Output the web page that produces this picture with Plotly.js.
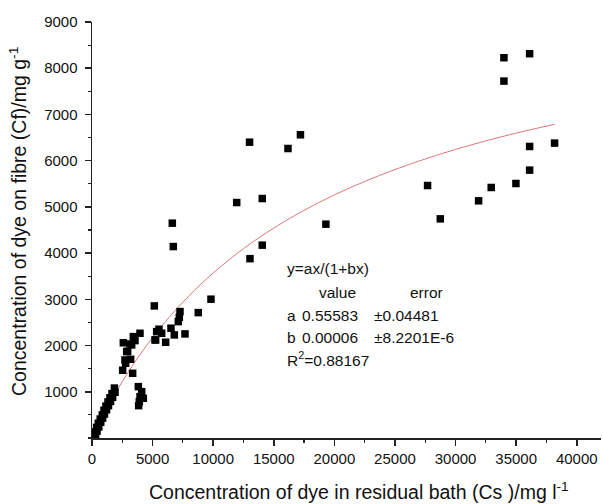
<!DOCTYPE html>
<html>
<head>
<meta charset="utf-8">
<script src="https://cdn.plot.ly/plotly-3.0.1.min.js"></script>
<style>html,body{margin:0;padding:0;background:#fff;}#chart{width:603px;height:504px;}</style>
</head>
<body>
<div id="chart"></div>
<script>
// Measured points: Cs (mg/l) and Cf (mg/g)
const csData = [
  165, 300, 250, 420, 380, 560, 520, 720, 680, 880, 850, 1030, 990, 1200, 1150, 1360, 1320, 1530, 1480, 1700, 1650, 1900, 1850,
  2530, 2585, 2723, 2777, 2860, 2943, 3135, 3190, 3273, 3355, 3410, 3548, 3960,
  3823, 4100, 3960, 4235, 3905, 3850,
  5142, 5198, 5253, 5335, 5528, 5750, 6078, 6518, 6793, 7123, 7205, 7260, 7673, 8770, 9818,
  6627, 6710, 11940, 13000, 13035, 14050, 14050, 16170, 17200, 19300,
  27690, 28740, 31900, 32940, 33990, 33990, 34980, 36110, 36110, 36110, 38170
];
const cfData = [
  43, 60, 130, 150, 230, 240, 320, 340, 410, 430, 500, 520, 600, 610, 690, 700, 780, 790, 870, 880, 960, 990, 1080,
  1465, 2060, 1689, 1617, 1868, 1877, 2035, 1703, 2013, 1400, 2193, 2107, 2266,
  1111, 1003, 894, 859, 786, 700,
  2858, 2122, 2122, 2302, 2353, 2266, 2072, 2375, 2230, 2518, 2613, 2735, 2252, 2713, 3003,
  4648, 4142, 5094, 6400, 3880, 5181, 4172, 6263, 6560, 4626,
  5462, 4741, 5131, 5420, 8227, 7722, 5506, 8314, 6307, 5795, 6380
];
// Fitted curve y = ax/(1+bx)
const fitX = [300, 1000, 2000, 3000, 4000, 5000, 6000, 8000, 10000, 12500, 15000, 17500, 20000, 22500, 25000, 27500, 30000, 32500, 35000, 38170];
const fitY = [164, 526, 1000, 1429, 1818, 2174, 2500, 3076, 3570, 4097, 4542, 4926, 5259, 5550, 5808, 6037, 6243, 6428, 6596, 6787];

const xTickVals = [0, 5000, 10000, 15000, 20000, 25000, 30000, 35000, 40000];
const yTickVals = [1000, 2000, 3000, 4000, 5000, 6000, 7000, 8000, 9000];

const xTitle = 'Concentration of dye in residual bath (Cs )/mg l<sup>-1</sup>';
const yTitle = 'Concentration of dye on fibre (Cf)/mg g<sup>-1</sup>';
const fitFormula = 'y=ax/(1+bx)';
const colHeads = ['value', 'error'];
const paramNames = ['a', 'b'];
const paramValues = ['0.55583', '0.00006'];
const paramErrors = ['±0.04481', '±8.2201E-6'];
const r2Text = 'R<sup>2</sup>=0.88167';

const font = 'Liberation Sans, Arial, sans-serif';
const W = 603, H = 504, ML = 92, MR = 2, MT = 22, MB = 66;
const PW = W - ML - MR, PH = H - MT - MB;
const px = v => (v - ML) / PW;
const py = v => 1 - (v - MT) / PH;

const traces = [
  {
    x: fitX, y: fitY, mode: 'lines', type: 'scatter',
    line: {color: 'rgb(221,120,120)', width: 1, shape: 'spline'},
    hoverinfo: 'skip'
  },
  {
    x: csData, y: cfData, mode: 'markers', type: 'scatter',
    marker: {symbol: 'square', size: 7.5, color: '#000'}
  }
];

const annFont = {family: font, size: 15.5, color: '#111'};
function ann(text, x, y, anchor, extra) {
  return Object.assign({xref: 'paper', yref: 'paper', x: px(x), y: py(y), xanchor: anchor || 'left', yanchor: 'middle',
    text: text, showarrow: false, font: annFont}, extra || {});
}
const annotations = [
  ann(fitFormula, 285, 268),
  ann(colHeads[0], 337, 292, 'center'),
  ann(colHeads[1], 426, 292, 'center'),
  ann(paramNames[0], 285, 315),
  ann(paramValues[0], 300, 315),
  ann(paramErrors[0], 372, 315),
  ann(paramNames[1], 285, 337),
  ann(paramValues[1], 300, 337),
  ann(paramErrors[1], 372, 337),
  ann(r2Text, 285, 359),
  ann(xTitle, 359, 491, 'center', {font: {family: font, size: 19.5, color: '#111'}}),
  ann(yTitle, 18, 222, 'center', {textangle: -90, xanchor: 'center', font: {family: font, size: 19.5, color: '#111'}})
];

const layout = {
  width: W, height: H,
  margin: {l: ML, r: MR, t: MT, b: MB},
  paper_bgcolor: '#fff', plot_bgcolor: '#fff',
  showlegend: false,
  font: {family: font, size: 14, color: '#111'},
  xaxis: {
    range: [0, 42000], tickvals: xTickVals, ticktext: xTickVals.map(String),
    showgrid: false, zeroline: false,
    showline: true, linecolor: '#222', linewidth: 1.5,
    ticks: 'outside', ticklen: 6, tickwidth: 1.5, tickcolor: '#222',
    minor: {ticks: 'outside', dtick: 2500, tick0: 0, ticklen: 3, tickwidth: 1.2, tickcolor: '#222', showgrid: false},
    tickfont: {family: font, size: 15, color: '#111'}
  },
  yaxis: {
    range: [0, 9000], tickvals: yTickVals, ticktext: yTickVals.map(String),
    showgrid: false, zeroline: false,
    showline: true, linecolor: '#222', linewidth: 1.5,
    ticks: 'outside', ticklen: 6, tickwidth: 1.5, tickcolor: '#222', ticklabelstandoff: 4,
    minor: {ticks: 'outside', dtick: 500, tick0: 0, ticklen: 3, tickwidth: 1.2, tickcolor: '#222', showgrid: false},
    tickfont: {family: font, size: 15, color: '#111'}
  },
  annotations: annotations
};

Plotly.newPlot('chart', traces, layout, {displayModeBar: false, staticPlot: true});
</script>
</body>
</html>
